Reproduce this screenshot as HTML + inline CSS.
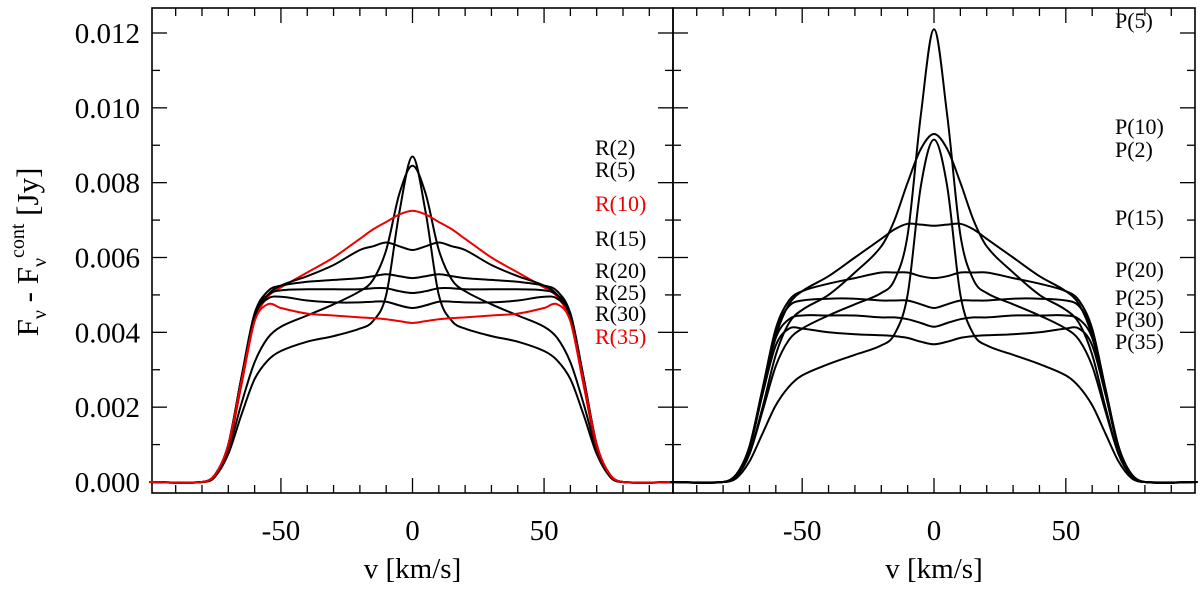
<!DOCTYPE html>
<html><head><meta charset="utf-8"><style>
body{margin:0;background:#fff}
svg{display:block;font-family:"Liberation Serif",serif}
</style></head><body>
<svg id="chart" width="1200" height="589" viewBox="0 0 1200 589"></svg>
<script>
const velocityGrid=[0,5,10,15,20,30,40,50,55,60,65,70,75,80,100];
const leftNames=["R(2)","R(5)","R(10)","R(15)","R(20)","R(25)","R(30)","R(35)"];
const leftColors=["#000","#000","#e00","#000","#000","#000","#000","#e00"];
const leftLabelY=[148,170,204,239,271,293,314,337];
const R2=[8.7,7.2,5.0,4.3,4.1,3.9,3.75,3.5,3.25,2.75,1.8,0.75,0.15,0,0];
const R5=[8.45,7.7,6.2,5.4,5.1,4.75,4.45,4.15,3.85,3.2,2.1,0.85,0.15,0,0];
const R10=[7.25,7.15,6.95,6.75,6.5,6.0,5.6,5.2,4.95,4.3,2.6,0.9,0.15,0,0];
const R15=[6.2,6.3,6.4,6.3,6.2,5.8,5.5,5.25,5.0,4.4,2.7,0.95,0.15,0,0];
const R20=[5.45,5.5,5.55,5.5,5.45,5.4,5.35,5.25,5.1,4.5,2.8,1.0,0.2,0,0];
const R25=[5.05,5.1,5.18,5.18,5.15,5.15,5.15,5.12,5.0,4.5,2.8,1.0,0.2,0,0];
const R30=[4.65,4.72,4.82,4.82,4.8,4.8,4.85,4.95,4.9,4.45,2.8,1.0,0.2,0,0];
const R35=[4.25,4.3,4.35,4.38,4.4,4.45,4.5,4.65,4.75,4.3,2.7,1.0,0.2,0,0];
const rightNames=["P(5)","P(10)","P(2)","P(15)","P(20)","P(25)","P(30)","P(35)"];
const rightLabelY=[21,127,150,218,270,298,320,342];
const P5=[12.1,9.8,6.6,5.4,5.05,4.75,4.45,4.1,3.8,3.1,1.9,0.75,0.15,0,0];
const P10=[9.3,8.9,8.0,7.0,6.3,5.6,5.0,4.6,4.25,3.4,2.0,0.75,0.15,0,0];
const P2=[9.15,7.9,5.0,3.95,3.65,3.4,3.15,2.85,2.55,2.05,1.3,0.55,0.1,0,0];
const P15=[6.85,6.88,6.9,6.75,6.5,6.0,5.5,5.1,4.75,3.9,2.4,0.9,0.15,0,0];
const P20=[5.45,5.5,5.6,5.6,5.6,5.45,5.3,5.1,4.85,4.1,2.5,0.95,0.15,0,0];
const P25=[4.65,4.75,4.85,4.85,4.85,4.9,4.9,4.85,4.7,4.05,2.5,0.95,0.2,0,0];
const P30=[4.15,4.25,4.35,4.4,4.4,4.45,4.45,4.45,4.35,3.85,2.45,0.95,0.2,0,0];
const P35=[3.68,3.75,3.85,3.9,3.92,3.95,4.0,4.1,4.1,3.65,2.35,0.9,0.2,0,0];
const leftSeries=[R2,R5,R10,R15,R20,R25,R30,R35];
const rightSeries=[P5,P10,P2,P15,P20,P25,P30,P35];
const yTicks=[0,0.002,0.004,0.006,0.008,0.010,0.012];
const yTickLabels=["0.000","0.002","0.004","0.006","0.008","0.010","0.012"];
const xTicks=[-50,0,50];
const xTickLabels=["-50","0","50"];

const NS="http://www.w3.org/2000/svg";
const svg=document.getElementById('chart');
const TOP=8,BOT=493,Y0=482,YPER=449/0.012;
const yS=v=>Y0-v*YPER;
function mk(tag,attrs,parent){const e=document.createElementNS(NS,tag);for(const k in attrs)e.setAttribute(k,attrs[k]);(parent||svg).appendChild(e);return e;}
function path(pts){
  let d="M"+pts[0][0].toFixed(1)+","+pts[0][1].toFixed(1);
  for(let i=0;i<pts.length-1;i++){
    const p0=pts[Math.max(0,i-1)],p1=pts[i],p2=pts[i+1],p3=pts[Math.min(pts.length-1,i+2)];
    const h=p2[0]-p1[0];
    const m1=(p2[1]-p0[1])/((p2[0]-p0[0])||1),m2=(p3[1]-p1[1])/((p3[0]-p1[0])||1);
    const c1=[p1[0]+h/3,p1[1]+m1*h/3],c2=[p2[0]-h/3,p2[1]-m2*h/3];
    d+="C"+c1[0].toFixed(1)+","+c1[1].toFixed(1)+" "+c2[0].toFixed(1)+","+c2[1].toFixed(1)+" "+p2[0].toFixed(1)+","+p2[1].toFixed(1);
  }
  return d;
}
function panel(x0,x1,series,names,colors,labelY,labelX,pname){
  const xS=v=>x0+(v+99)/198*(x1-x0);
  const g=mk('g',{});
  
  
  const frame=mk('rect',{x:x0,y:TOP,width:x1-x0,height:BOT-TOP,fill:'none',stroke:'#000','stroke-width':1.6},g);
  
  
  for(let v=-90;v<=90;v+=10){
    const L=(v%50===0)?15:8,x=xS(v);
    const t1=mk('line',{x1:x,x2:x,y1:BOT,y2:BOT-L,stroke:'#000','stroke-width':1.3},g);
    
    
    const t2=mk('line',{x1:x,x2:x,y1:TOP,y2:TOP+L,stroke:'#000','stroke-width':1.3},g);
    
    
  }
  for(let k=0;k<=12;k++){
    const y=yS(k*0.001),L=(k%2===0)?15:8;
    const t1=mk('line',{x1:x0,x2:x0+L,y1:y,y2:y,stroke:'#000','stroke-width':1.3},g);
    
    
    const t2=mk('line',{x1:x1,x2:x1-L,y1:y,y2:y,stroke:'#000','stroke-width':1.3},g);
    
    
  }
  xTicks.forEach((v,i)=>{
    const t=mk('text',{x:xS(v),y:540,'font-size':29,'text-anchor':'middle'},g);
    t.textContent=xTickLabels[i];
    
    
  });
  const xt=mk('text',{x:xS(0),y:578,'font-size':29,'text-anchor':'middle'},g);
  xt.textContent="v [km/s]";
  
  
  series.forEach((s,i)=>{
    const pts=[];
    for(let j=velocityGrid.length-1;j>0;j--)pts.push([xS(-velocityGrid[j]),yS(s[j]/1000)]);
    for(let j=0;j<velocityGrid.length;j++)pts.push([xS(velocityGrid[j]),yS(s[j]/1000)]);
    const cp=mk('path',{d:path(pts),fill:'none',stroke:colors[i],'stroke-width':2},g);
    
    
    const lb=mk('text',{x:labelX,y:labelY[i]+7,'font-size':22,fill:colors[i]},g);
    lb.textContent=names[i];
    
    
  });
}
panel(152,673,leftSeries,leftNames,leftColors,leftLabelY,595,'left-panel-r-lines');
panel(673,1195,rightSeries,rightNames,rightNames.map(()=>"#000"),rightLabelY,1115,'right-panel-p-lines');
yTicks.forEach((v,i)=>{
  const t=mk('text',{x:140,y:yS(v)+10,'font-size':29,'text-anchor':'end'});
  t.textContent=yTickLabels[i];
  
  
});
const yt=mk('text',{x:0,y:0,'font-size':31,transform:'translate(38,252) rotate(-90)','text-anchor':'middle'});
yt.innerHTML='F<tspan font-size="20" dy="8">ν</tspan><tspan dy="-8"> - F</tspan><tspan font-size="20" dy="8">ν</tspan><tspan font-size="20" dy="-22">cont</tspan><tspan dy="14"> [Jy]</tspan>';


</script>
</body></html>
